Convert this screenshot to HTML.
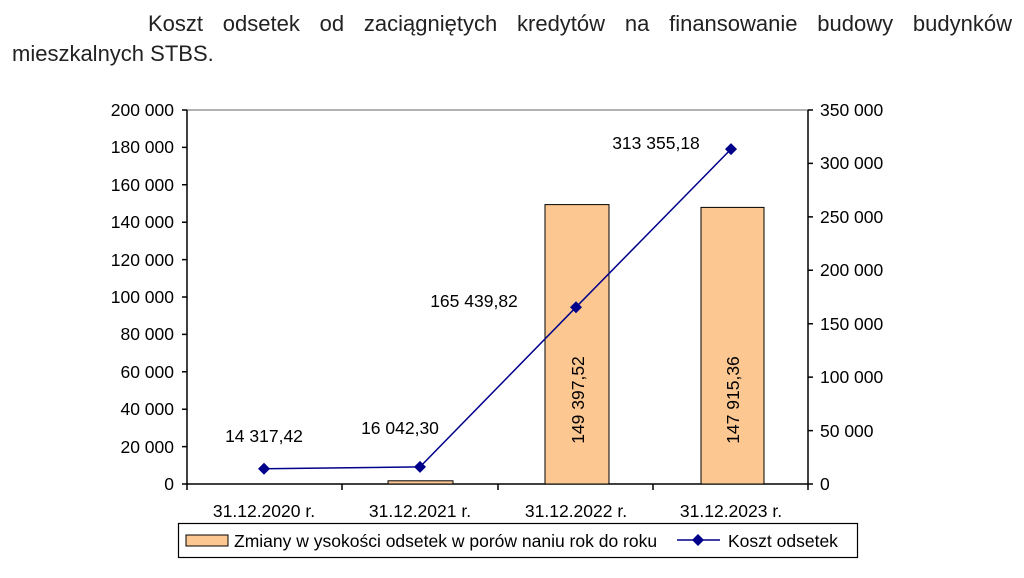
<!DOCTYPE html>
<html><head><meta charset="utf-8"><style>
body{margin:0;background:#fff;width:1024px;height:578px;overflow:hidden}
.t{position:absolute;font-family:"Liberation Sans","DejaVu Sans",sans-serif;font-size:22px;color:#222;white-space:nowrap}
</style></head><body>
<div class="t" style="left:148px;top:11px;width:864px;text-align:justify;text-align-last:justify">Koszt odsetek od zaciągniętych kredytów na finansowanie budowy budynków</div>
<div class="t" style="left:12px;top:41px">mieszkalnych STBS.</div>
<svg width="1024" height="578" style="position:absolute;left:0;top:0" font-family="Liberation Sans, Arial, sans-serif" font-size="17.5">
<line x1="187" y1="110" x2="808" y2="110" stroke="#999" stroke-width="1.5"/>
<g stroke="#000" stroke-width="1.5">
<line x1="187" y1="110" x2="187" y2="484"/>
<line x1="808" y1="110" x2="808" y2="484"/>
<line x1="182" y1="484" x2="813" y2="484"/>
</g>
<g fill="#fdc792" stroke="#000" stroke-width="1">
<rect x="388" y="480.8" width="65" height="3.2"/>
<rect x="545" y="204.6" width="64" height="279.4"/>
<rect x="701" y="207.4" width="63" height="276.6"/>
</g>
<g fill="#000" text-anchor="end">
<text x="174" y="116">200 000</text><text x="174" y="153">180 000</text><text x="174" y="191">160 000</text><text x="174" y="228">140 000</text><text x="174" y="266">120 000</text><text x="174" y="303">100 000</text><text x="174" y="340">80 000</text><text x="174" y="378">60 000</text><text x="174" y="415">40 000</text><text x="174" y="453">20 000</text><text x="174" y="490">0</text>
</g>
<g fill="#000">
<text x="820" y="116">350 000</text><text x="820" y="169">300 000</text><text x="820" y="223">250 000</text><text x="820" y="276">200 000</text><text x="820" y="330">150 000</text><text x="820" y="383">100 000</text><text x="820" y="437">50 000</text><text x="820" y="490">0</text>
</g>
<g stroke="#000" stroke-width="1.5">
<path d="M182 110h5M182 147.4h5M182 184.8h5M182 222.2h5M182 259.6h5M182 297h5M182 334.4h5M182 371.8h5M182 409.2h5M182 446.6h5"/>
<path d="M808 110h5M808 163.4h5M808 216.9h5M808 270.3h5M808 323.7h5M808 377.1h5M808 430.6h5"/>
<path d="M342 484v6M498 484v6M653 484v6M187 484v6M808 484v6"/>
</g>
<polyline points="264,468.7 420,466.9 576,307.2 731,149.1" fill="none" stroke="#00008b" stroke-width="1.5"/>
<g fill="#00008b">
<path d="M264 462.7l6 6-6 6-6-6z"/><path d="M420 460.9l6 6-6 6-6-6z"/><path d="M576 301.2l6 6-6 6-6-6z"/><path d="M731 143.1l6 6-6 6-6-6z"/>
</g>
<g fill="#000" text-anchor="middle">
<text x="264" y="442">14 317,42</text><text x="400" y="434">16 042,30</text><text x="474" y="307">165 439,82</text><text x="656" y="149">313 355,18</text>
<text x="264" y="517">31.12.2020 r.</text><text x="420" y="517">31.12.2021 r.</text><text x="576" y="517">31.12.2022 r.</text><text x="731" y="517">31.12.2023 r.</text>
<text transform="translate(584,400) rotate(-90)">149 397,52</text>
<text transform="translate(739,400) rotate(-90)">147 915,36</text>
</g>
<rect x="178.5" y="523.5" width="679" height="34" fill="none" stroke="#000" stroke-width="1.2"/>
<rect x="186" y="535" width="42" height="11" fill="#fdc792" stroke="#000"/>
<text x="234" y="547" fill="#000">Zmiany w ysokości odsetek w  porów naniu rok do roku</text>
<line x1="677" y1="540" x2="720" y2="540" stroke="#00008b" stroke-width="1.5"/>
<path d="M698 534l6 6-6 6-6-6z" fill="#00008b"/>
<text x="728" y="547" fill="#000">Koszt odsetek</text>
</svg>
</body></html>
